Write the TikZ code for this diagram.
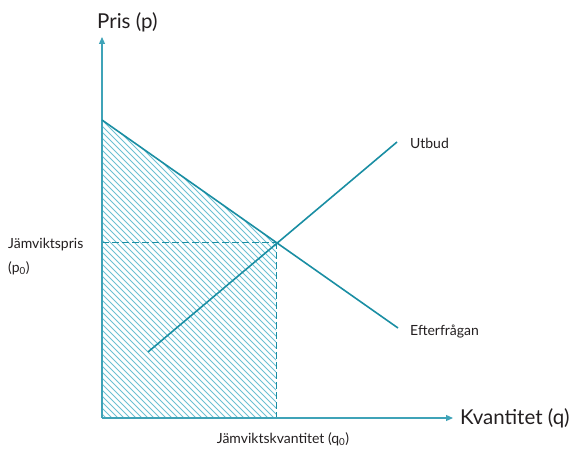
\documentclass[tikz,border=0pt]{standalone}
\usepackage{fontspec}
\setmainfont{Lato}
\usetikzlibrary{arrows.meta}
\definecolor{axis}{HTML}{3FA3B8}
\definecolor{curve}{HTML}{1A8EA3}
\definecolor{hatch}{HTML}{6CC0D2}
\definecolor{txt}{HTML}{231F20}
\tikzset{
  axisline/.style={draw=axis, line width=1.2pt, -{Triangle[length=7pt,width=6pt]}},
  curveline/.style={draw=curve, line width=1.6pt},
  guide/.style={draw=curve, line width=0.9pt, dash pattern=on 7pt off 3pt},
  hatchline/.style={draw=hatch, line width=0.8pt},
  biglabel/.style={text=txt, font=\fontsize{20.5}{22}\selectfont, inner sep=0pt},
  smalllabel/.style={text=txt, font=\fontsize{14}{16}\selectfont, inner sep=0pt},
}
\begin{document}
\begin{tikzpicture}[x=1pt,y=-1pt]
\useasboundingbox (0,0) rectangle (572,449);
\coordinate (O) at (102,418);
\coordinate (Ytop) at (102,37);
\coordinate (Xend) at (453,418);
\coordinate (D1) at (102,120);
\coordinate (D2) at (398,328);
\coordinate (S1) at (148,352);
\coordinate (S2) at (397,142);
\coordinate (E) at (276,242.3);
\coordinate (Ey) at (102,242.3);
\coordinate (Ex) at (276,418);
% hatch
\begin{scope}
\clip (O) -- (D1) -- (E) -- (Ex) -- cycle;
\foreach \k in {0,6,...,480} {
  \draw[hatchline] (102,120-180+\k) -- ++(360,360);
}
\end{scope}
\draw[guide] (Ey) -- (E);
\draw[guide] (E) -- (Ex);
\draw[axisline] (O) -- (Ytop);
\draw[axisline] (O) -- (Xend);
\draw[curveline] (D1) -- (D2);
\draw[curveline] (S1) -- (S2);
\node[biglabel, anchor=west] (py) at (97,22) {Pris (p)};
\node[biglabel, anchor=west] (qx) at (460,418) {Kvantitet (q)};
\node[smalllabel, anchor=west] (ut) at (410,143) {Utbud};
\node[smalllabel, anchor=west] (ef) at (410,332) {Efterfrågan};
\node[smalllabel, anchor=west] (jp) at (8,245) {Jämviktspris};
\node[smalllabel, anchor=west] (p0) at (8,268) {(p\textsubscript{0})};
\node[smalllabel] (jq) at (283,439) {Jämviktskvantitet (q\textsubscript{0})};
\end{tikzpicture}
\end{document}
